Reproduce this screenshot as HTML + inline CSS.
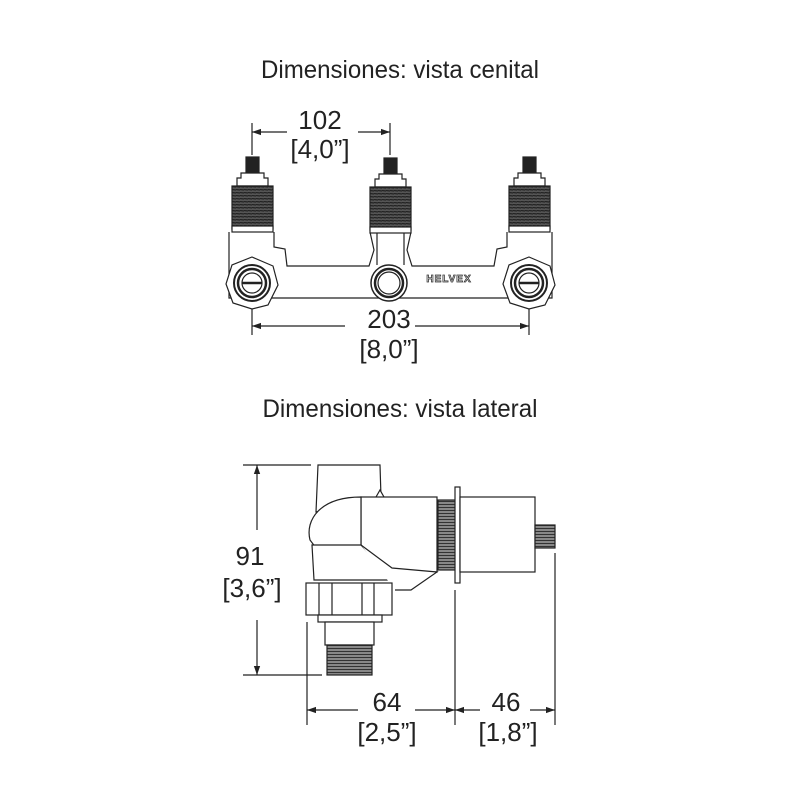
<!DOCTYPE html>
<html><head><meta charset="utf-8"><style>
html,body{margin:0;padding:0;background:#fff;}
svg{display:block}
text{font-family:"Liberation Sans",sans-serif;fill:#222}
</style></head><body>
<svg width="800" height="800" viewBox="0 0 800 800" xmlns="http://www.w3.org/2000/svg">
<defs>
<marker id="a" viewBox="0 0 10 10" refX="10" refY="5" markerWidth="9" markerHeight="9" orient="auto-start-reverse" markerUnits="userSpaceOnUse"><path d="M0,1.5 L10,5 L0,8.5 z" fill="#222"/></marker>
<pattern id="th" width="4" height="3" patternUnits="userSpaceOnUse"><rect width="4" height="3" fill="#555"/><line x1="0" y1="0.5" x2="4" y2="1" stroke="#222" stroke-width="1.2"/></pattern>
<pattern id="tv" width="3" height="3" patternUnits="userSpaceOnUse"><rect width="3" height="3" fill="#888"/><line x1="0" y1="0.5" x2="3" y2="0.5" stroke="#333" stroke-width="1"/></pattern>
</defs>
<text x="400" y="78" font-size="25" text-anchor="middle" textLength="278" lengthAdjust="spacingAndGlyphs">Dimensiones: vista cenital</text>
<text x="400" y="417" font-size="25" text-anchor="middle" textLength="275" lengthAdjust="spacingAndGlyphs">Dimensiones: vista lateral</text>

<g stroke="#222" stroke-width="1.2" fill="none">
<!-- top dims -->
<line x1="252" y1="123" x2="252" y2="155"/><line x1="390" y1="123" x2="390" y2="155"/>
<line x1="252" y1="132" x2="287" y2="132" marker-start="url(#a)"/><line x1="358" y1="132" x2="390" y2="132" marker-end="url(#a)"/>
<line x1="252" y1="305" x2="252" y2="335"/><line x1="529" y1="305" x2="529" y2="335"/>
<line x1="252" y1="326" x2="345" y2="326" marker-start="url(#a)"/><line x1="415" y1="326" x2="529" y2="326" marker-end="url(#a)"/>

<!-- body -->
<path d="M229,232 L229,298 L552,298 L552,232 M507,232 L507,247 L497,249 L494,266 L412,266 L407,250 L411,232 M370,232 L374,250 L369,266 L287,266 L285,249 L274,247 L274,232" fill="#fff"/>
<line x1="377" y1="232" x2="377" y2="265"/><line x1="404" y1="232" x2="404" y2="265"/>
<!-- circles -->
<path d="M252,257 L273,266 L278,285 L268,305 L252,309 L233,303 L226,284 L232,265 Z" fill="#fff"/>
<circle cx="252" cy="283" r="18" stroke-width="2"/><circle cx="252" cy="283" r="14" stroke-width="2.5"/><circle cx="252" cy="283" r="10"/>
<line x1="242" y1="283" x2="262" y2="283" stroke-width="2.5"/>
<path d="M529,257 L550,266 L555,285 L545,305 L529,309 L510,303 L503,284 L509,265 Z" fill="#fff"/>
<circle cx="529" cy="283" r="18" stroke-width="2"/><circle cx="529" cy="283" r="14" stroke-width="2.5"/><circle cx="529" cy="283" r="10"/>
<line x1="519" y1="283" x2="539" y2="283" stroke-width="2.5"/>
<circle cx="389" cy="283" r="18" stroke-width="1.5" fill="#fff"/><circle cx="389" cy="283" r="14" stroke-width="2.5"/><circle cx="389" cy="283" r="11"/>
</g>
<text x="449" y="282" font-size="10" font-weight="bold" text-anchor="middle" fill="none" stroke="#333" stroke-width="0.8" style="fill:#fff" letter-spacing="1">HELVEX</text>

<!-- valves -->
<g stroke="#222" stroke-width="1.2">
<g id="v">
<rect x="246" y="157" width="13" height="15" fill="#222"/>
<path d="M241,173 L264,173 L264,178 L268,178 L268,186 L237,186 L237,178 L241,178 Z" fill="#fff"/>
<rect x="232" y="186" width="41" height="43" fill="url(#th)"/>
<rect x="232" y="226" width="41" height="6" fill="#fff"/>
</g>
<use href="#v" x="138" y="1"/>
<use href="#v" x="277" y="0"/>
</g>

<text x="320" y="129" font-size="26" text-anchor="middle">102</text>
<text x="320" y="158" font-size="26" text-anchor="middle">[4,0”]</text>
<text x="389" y="328" font-size="26" text-anchor="middle">203</text>
<text x="389" y="358" font-size="26" text-anchor="middle">[8,0”]</text>

<!-- side view -->
<g stroke="#222" stroke-width="1.2" fill="#fff">
<line x1="243" y1="465" x2="311" y2="465"/><line x1="243" y1="675" x2="322" y2="675"/>
<line x1="257" y1="465" x2="257" y2="530" marker-start="url(#a)" fill="none"/>
<line x1="257" y1="620" x2="257" y2="675" marker-end="url(#a)" fill="none"/>
<path d="M318,465 L380,465 L381,497 L316,512 Z"/>
<path d="M376,497 L380,490 L384,497"/>
<rect x="361" y="497" width="76" height="75"/>
<path d="M316,548 L310,540 C305,520 320,497 361,497 L361,545 Z"/>
<path d="M312,545 L361,545 L388,575 L388,580 L314,580 Z"/>
<path d="M361,545 L392,568 L437,572 L411,590 L395,590"/>
<rect x="438" y="500" width="18" height="70" fill="url(#tv)"/>
<rect x="455" y="487" width="5" height="96"/>
<rect x="460" y="497" width="75" height="75"/>
<rect x="535" y="525" width="20" height="23" fill="url(#tv)"/>
<rect x="306" y="583" width="86" height="32"/>
<line x1="319" y1="583" x2="319" y2="615"/><line x1="332" y1="583" x2="332" y2="615"/><line x1="362" y1="583" x2="362" y2="615"/><line x1="374" y1="583" x2="374" y2="615"/>
<rect x="318" y="615" width="64" height="7"/>
<rect x="325" y="622" width="49" height="23"/>
<rect x="327" y="645" width="45" height="30" fill="url(#tv)"/>
<line x1="307" y1="622" x2="307" y2="725"/><line x1="455" y1="590" x2="455" y2="725"/><line x1="555" y1="553" x2="555" y2="725"/>
<line x1="307" y1="710" x2="358" y2="710" marker-start="url(#a)" fill="none"/><line x1="415" y1="710" x2="455" y2="710" marker-end="url(#a)" fill="none"/>
<line x1="455" y1="710" x2="480" y2="710" marker-start="url(#a)" fill="none"/><line x1="530" y1="710" x2="555" y2="710" marker-end="url(#a)" fill="none"/>
</g>
<text x="250" y="565" font-size="26" text-anchor="middle">91</text>
<text x="252" y="597" font-size="26" text-anchor="middle">[3,6”]</text>
<text x="387" y="711" font-size="26" text-anchor="middle">64</text>
<text x="387" y="741" font-size="26" text-anchor="middle">[2,5”]</text>
<text x="506" y="711" font-size="26" text-anchor="middle">46</text>
<text x="508" y="741" font-size="26" text-anchor="middle">[1,8”]</text>
</svg>
</body></html>
